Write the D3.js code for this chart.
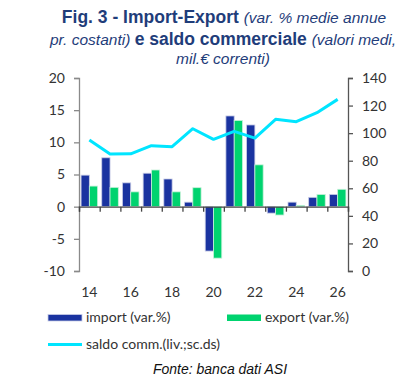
<!DOCTYPE html>
<html><head><meta charset="utf-8">
<script src="https://cdn.jsdelivr.net/npm/d3@7"></script>
<style>
body{margin:0;background:#fff;}
svg{display:block;}
</style></head>
<body>
<svg id="c" width="414" height="381"></svg>
<script>
const years = ["14","15","16","17","18","19","20","21","22","23","24","25","26"];
const importVals = [4.9, 7.6, 3.7, 5.2, 4.3, 0.7, -6.9, 14.1, 12.7, -1.0, 0.7, 1.45, 1.9];
const exportVals = [3.2, 3.0, 2.3, 5.7, 2.3, 2.95, -8.0, 13.4, 6.5, -1.3, 0.2, 1.9, 2.7];
const saldoVals = [95, 84.8, 85, 90.9, 90.2, 103.2, 95.5, 101.3, 96.4, 110, 108.3, 114.8, 124.5];
const leftTicks = [-10, -5, 0, 5, 10, 15, 20];
const rightTicks = [0, 20, 40, 60, 80, 100, 120, 140];
const xLabels = ["14","16","18","20","22","24","26"];

const svg = d3.select("#c");
const font = "Lato, 'Open Sans', sans-serif";
const x0 = 79, x1 = 348, yTop = 78, yBot = 271;

const x = d3.scaleBand().domain(years).range([x0, x1]).paddingInner(0).paddingOuter(0);
const yL = d3.scaleLinear().domain([-10, 20]).range([yBot, yTop]);
const yR = d3.scaleLinear().domain([0, 140]).range([yBot, yTop]);

// Title
const tc = "#1f3d7a";
const title = svg.append("text").attr("text-anchor","middle").attr("fill",tc)
  .attr("font-family","Arial, 'Liberation Sans', sans-serif");
const l1 = title.append("tspan").attr("x",224).attr("y",23);
l1.append("tspan").attr("font-weight","bold").attr("font-size","17.5px").text("Fig. 3 - Import-Export ");
l1.append("tspan").attr("font-style","italic").attr("font-size","15.5px").text("(var. % medie annue");
const l2 = title.append("tspan").attr("x",223).attr("y",45);
l2.append("tspan").attr("font-style","italic").attr("font-size","15.5px").text("pr. costanti) ");
l2.append("tspan").attr("font-weight","bold").attr("font-size","17.5px").text("e saldo commerciale ");
l2.append("tspan").attr("font-style","italic").attr("font-size","15.5px").text("(valori medi,");
title.append("tspan").attr("x",223).attr("y",64).attr("font-style","italic").attr("font-size","15.5px").text("mil.€ correnti)");

// Bars
const bw = x.bandwidth();
const barW = bw * 0.4;
const g = svg.append("g");
g.selectAll("rect.imp").data(years).join("rect")
  .attr("x", (d) => x(d) + bw*0.1)
  .attr("width", barW)
  .attr("y", (d,i) => Math.min(yL(importVals[i]), yL(0)))
  .attr("height", (d,i) => Math.abs(yL(importVals[i]) - yL(0)))
  .attr("fill", "#1a33a0").attr("stroke","#c9cde6").attr("stroke-width",0.8);
g.selectAll("rect.exp").data(years).join("rect")
  .attr("x", (d) => x(d) + bw*0.1 + barW)
  .attr("width", barW)
  .attr("y", (d,i) => Math.min(yL(exportVals[i]), yL(0)))
  .attr("height", (d,i) => Math.abs(yL(exportVals[i]) - yL(0)))
  .attr("fill", "#00d36f").attr("stroke","#c8f0da").attr("stroke-width",0.8);

// Left axis
const axisColor = "#8a8a8a";
const la = svg.append("g").attr("transform",`translate(${x0},0)`)
  .call(d3.axisLeft(yL).tickValues(leftTicks).tickSize(5).tickPadding(9).tickFormat(d => String(d)));
la.select(".domain").attr("stroke",axisColor).attr("stroke-width",1.3);
la.selectAll(".tick line").attr("stroke",axisColor).attr("stroke-width",1.3);
la.selectAll(".tick text").attr("font-family",font).attr("font-size","14px").attr("fill","#333");

// Right axis
const ra = svg.append("g").attr("transform",`translate(${x1},0)`)
  .call(d3.axisRight(yR).tickValues(rightTicks).tickSize(5).tickPadding(9));
ra.select(".domain").attr("stroke","#555").attr("stroke-width",1.3);
ra.selectAll(".tick line").attr("stroke","#555").attr("stroke-width",1.3);
ra.selectAll(".tick text").attr("font-family",font).attr("font-size","14px").attr("fill","#333");

// Zero line with ticks at band boundaries
const boundaries = years.map(d => x(d)).concat([x1]);
const za = svg.append("g").attr("transform",`translate(0,${yL(0)})`)
  .call(d3.axisBottom(d3.scaleLinear().domain([x0,x1]).range([x0,x1]))
    .tickValues(boundaries).tickSize(5).tickFormat(""));
za.select(".domain").attr("stroke","#444").attr("stroke-width",1.3);
za.selectAll(".tick line").attr("stroke","#444").attr("stroke-width",1.3);

// X labels
const xa = svg.append("g").attr("transform",`translate(0,${yBot})`)
  .call(d3.axisBottom(x).tickValues(xLabels).tickSize(0).tickPadding(16));
xa.select(".domain").remove();
xa.selectAll(".tick text").attr("font-family",font).attr("font-size","14px").attr("fill","#333");

// Line
const line = d3.line().x((d,i) => x(years[i]) + bw/2).y(d => yR(d));
svg.append("path").datum(saldoVals).attr("d", line)
  .attr("fill","none").attr("stroke","#00e5ff").attr("stroke-width",3).attr("stroke-linejoin","round");

// Legend
const lg = svg.append("g").attr("font-family",font).attr("font-size","14px").attr("fill","#333");
lg.append("rect").attr("x",48).attr("y",314.5).attr("width",34).attr("height",6.5).attr("fill","#1a33a0").attr("stroke","#c9cde6").attr("stroke-width",0.8);
lg.append("text").attr("x",86).attr("y",322).text("import (var.%)");
lg.append("rect").attr("x",227).attr("y",314.5).attr("width",34).attr("height",6.5).attr("fill","#00d36f");
lg.append("text").attr("x",265).attr("y",322).text("export (var.%)");
lg.append("line").attr("x1",48).attr("x2",82).attr("y1",344.5).attr("y2",344.5).attr("stroke","#00e5ff").attr("stroke-width",3);
lg.append("text").attr("x",86).attr("y",349).text("saldo comm.(liv.;sc.ds)");

// Source
svg.append("text").attr("x",220).attr("y",374).attr("text-anchor","middle")
  .attr("font-family","Arial, 'Liberation Sans', sans-serif").attr("font-style","italic")
  .attr("font-size","14px").attr("fill","#111").text("Fonte: banca dati ASI");
</script>
</body></html>
